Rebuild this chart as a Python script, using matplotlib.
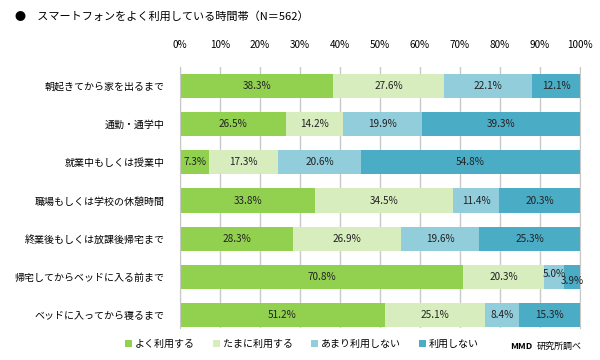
import matplotlib
matplotlib.use("Agg")
import matplotlib.pyplot as plt
import numpy as np

plt.rcParams['font.family'] = ['Noto Sans CJK JP', 'DejaVu Sans']

categories = [
    "朝起きてから家を出るまで",
    "通勤・通学中",
    "就業中もしくは授業中",
    "職場もしくは学校の休憩時間",
    "終業後もしくは放課後帰宅まで",
    "帰宅してからベッドに入る前まで",
    "ベッドに入ってから寝るまで",
]
series_names = ["よく利用する", "たまに利用する", "あまり利用しない", "利用しない"]
often = [38.3, 26.5, 7.3, 33.8, 28.3, 70.8, 51.2]
sometimes = [27.6, 14.2, 17.3, 34.5, 26.9, 20.3, 25.1]
rarely = [22.1, 19.9, 20.6, 11.4, 19.6, 5.0, 8.4]
never = [12.1, 39.3, 54.8, 20.3, 25.3, 3.9, 15.3]
colors = ["#92D050", "#D7EDBD", "#92CDDC", "#4BACC6"]
ticks = np.arange(0, 101, 10)

fig = plt.figure(figsize=(6, 3.6), dpi=100)
ax = fig.add_axes([0.3, 0.089, 0.6667, 0.725])

y = np.arange(len(categories))
left = np.zeros(len(categories))
for vals, name, c in zip([often, sometimes, rarely, never], series_names, colors):
    vals = np.array(vals)
    ax.barh(y, vals, left=left, height=0.63, color=c, label=name, zorder=2)
    for i, v in enumerate(vals):
        dy = 0
        if v < 4.5:
            dy = 0.12
        elif v < 6:
            dy = -0.08
        ax.text(left[i] + v / 2, y[i] + dy, f"{v:.1f}%", ha="center", va="center",
                fontsize=7.2, color="#222222", zorder=3)
    left += vals

ax.set_xlim(0, 100)
ax.set_ylim(6.34, -0.5)
ax.set_yticks(y)
ax.set_yticklabels(categories, fontsize=7.2)
ax.set_xticks(ticks)
ax.set_xticklabels([f"{t}%" for t in ticks], fontsize=7.2)
ax.xaxis.tick_top()
ax.tick_params(length=0, pad=12, axis="x")
ax.tick_params(length=0, pad=11, axis="y")
ax.grid(axis="x", color="#C8C8C8", lw=1, zorder=0)
for s in ["top", "bottom"]:
    ax.spines[s].set_visible(False)
for s in ["left", "right"]:
    ax.spines[s].set_color("#C8C8C8")

fig.text(0.025, 0.953, "●　スマートフォンをよく利用している時間帯（N＝562）",
         fontsize=8, va="center")

leg = fig.legend(loc="center left", bbox_to_anchor=(0.193, 0.045), ncol=4,
                 frameon=False, fontsize=7.2, handlelength=0.7, handleheight=0.7,
                 handletextpad=0.3, columnspacing=1.8)

fig.text(0.85, 0.038, "MMD", fontsize=6.5, fontweight="bold", va="center")
fig.text(0.895, 0.038, "研究所調べ", fontsize=6.5, va="center")

fig.savefig("out.png", dpi=100)
